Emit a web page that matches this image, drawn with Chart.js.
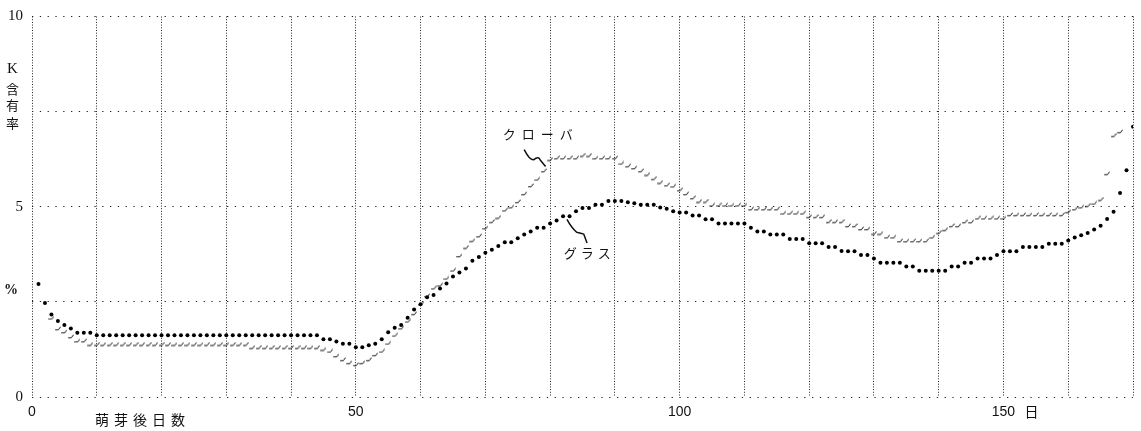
<!DOCTYPE html>
<html>
<head>
<meta charset="utf-8">
<script src="https://cdn.jsdelivr.net/npm/chart.js@4"></script>
<style>
  html, body { margin: 0; padding: 0; background: #fff; }
  #wrap { width: 1141px; height: 431px; }
</style>
</head>
<body>
<div id="wrap"><canvas id="c" width="1141" height="431"></canvas></div>
<script>
// ---- data (K content %, one reading per day after sprouting) ----
const firstDay = 1;
const grass = [
  2.97, 2.47, 2.17, 2.00, 1.89, 1.80, 1.69, 1.69, 1.69, 1.62,
  1.62, 1.62, 1.62, 1.62, 1.62, 1.62, 1.62, 1.62, 1.62, 1.62,
  1.62, 1.62, 1.62, 1.62, 1.62, 1.62, 1.62, 1.62, 1.62, 1.62,
  1.62, 1.62, 1.62, 1.62, 1.62, 1.62, 1.62, 1.62, 1.62, 1.62,
  1.62, 1.62, 1.62, 1.62, 1.52, 1.52, 1.46, 1.40, 1.40, 1.31,
  1.31, 1.36, 1.40, 1.52, 1.70, 1.82, 1.89, 2.08, 2.30, 2.44,
  2.62, 2.68, 2.85, 2.98, 3.17, 3.27, 3.38, 3.58, 3.68, 3.79,
  3.87, 3.97, 4.07, 4.07, 4.17, 4.27, 4.35, 4.45, 4.45, 4.56,
  4.64, 4.75, 4.75, 4.88, 4.97, 4.97, 5.05, 5.05, 5.15, 5.15,
  5.15, 5.12, 5.09, 5.05, 5.05, 5.05, 4.98, 4.95, 4.88, 4.85,
  4.85, 4.77, 4.77, 4.67, 4.67, 4.56, 4.56, 4.56, 4.56, 4.56,
  4.45, 4.35, 4.35, 4.27, 4.27, 4.27, 4.15, 4.15, 4.15, 4.04,
  4.04, 4.04, 3.94, 3.94, 3.84, 3.83, 3.83, 3.73, 3.73, 3.64,
  3.53, 3.53, 3.53, 3.53, 3.43, 3.43, 3.32, 3.32, 3.32, 3.32,
  3.32, 3.43, 3.43, 3.53, 3.53, 3.64, 3.64, 3.64, 3.73, 3.83,
  3.83, 3.83, 3.94, 3.94, 3.94, 3.94, 4.03, 4.03, 4.03, 4.11,
  4.19, 4.25, 4.31, 4.40, 4.50, 4.68, 4.87, 5.36, 5.96, 7.10
];
const clover = [
  null, null, 2.08, 1.80, 1.72, 1.59, 1.48, 1.48, 1.39, 1.39,
  1.39, 1.39, 1.39, 1.39, 1.39, 1.39, 1.39, 1.39, 1.39, 1.39,
  1.39, 1.39, 1.39, 1.39, 1.39, 1.39, 1.39, 1.39, 1.39, 1.39,
  1.39, 1.39, 1.39, 1.31, 1.31, 1.31, 1.31, 1.31, 1.31, 1.31,
  1.31, 1.31, 1.31, 1.31, 1.26, 1.21, 1.09, 0.99, 0.91, 0.86,
  0.91, 0.99, 1.12, 1.21, 1.42, 1.63, 1.82, 2.00, 2.20, 2.45,
  2.67, 2.87, 2.95, 3.13, 3.34, 3.72, 3.94, 4.12, 4.24, 4.45,
  4.62, 4.73, 4.92, 5.00, 5.14, 5.35, 5.56, 5.73, 5.95, 6.25,
  6.29, 6.29, 6.29, 6.29, 6.36, 6.36, 6.29, 6.29, 6.29, 6.29,
  6.15, 6.08, 6.03, 5.95, 5.86, 5.75, 5.65, 5.58, 5.55, 5.45,
  5.35, 5.24, 5.15, 5.15, 5.05, 5.05, 5.05, 5.05, 5.05, 5.05,
  4.95, 4.95, 4.95, 4.95, 4.95, 4.84, 4.84, 4.84, 4.84, 4.75,
  4.75, 4.75, 4.62, 4.62, 4.62, 4.51, 4.51, 4.43, 4.43, 4.31,
  4.31, 4.21, 4.21, 4.11, 4.11, 4.11, 4.11, 4.11, 4.21, 4.33,
  4.41, 4.51, 4.51, 4.61, 4.61, 4.71, 4.71, 4.71, 4.71, 4.71,
  4.80, 4.80, 4.80, 4.80, 4.80, 4.80, 4.80, 4.80, 4.80, 4.88,
  4.95, 5.00, 5.04, 5.10, 5.20, 5.88, 6.88, 6.98, null, null
];
const xMax = 170;
const yMax = 10;
const xLabelled = [0, 50, 100, 150];
const yLabelled = [0, 5, 10];
const seriesNames = ['グラス', 'クローバ'];

// ---- helpers ----
const toPoints = arr => arr.map((v, i) => ({ x: firstDay + i, y: v })).filter(p => p.y !== null);

// small hook-shaped mark for the clover series
const hook = document.createElement('canvas');
hook.width = 6; hook.height = 5;
(function () {
  const c = hook.getContext('2d');
  c.strokeStyle = '#1a1a1a';
  c.lineWidth = 1;
  c.lineCap = 'round';
  c.beginPath();
  c.moveTo(0.6, 3.8);
  c.lineTo(3.4, 3.8);
  c.lineTo(5.4, 1.0);
  c.stroke();
})();

const annot = {
  id: 'annot',
  afterDraw(chart) {
    const { ctx, scales: { x, y } } = chart;
    ctx.save();
    ctx.fillStyle = '#111';
    ctx.textAlign = 'center';
    ctx.textBaseline = 'middle';
    const spaced = (txt, cx, cy, step) => {
      [...txt].forEach((ch, i) => ctx.fillText(ch, cx + i * step, cy));
    };
    // y-axis title
    ctx.font = '15px "Liberation Serif"';
    ctx.fillText('K', 12.5, 69);
    ctx.font = '13px "Noto Sans CJK JP"';
    ctx.fillText('含', 12.5, 89);
    ctx.fillText('有', 12.5, 105);
    ctx.fillText('率', 12.5, 123);
    ctx.font = 'bold 14px "Liberation Serif"';
    ctx.fillText('%', 11, 290);
    // x-axis title + unit
    ctx.font = '14px "Noto Sans CJK JP"';
    spaced('萌芽後日数', 102, 420, 19);
    ctx.fillText('日', x.getPixelForValue(150) + 28, 412);
    // series labels
    ctx.font = '13px "Noto Sans CJK JP"';
    spaced(seriesNames[1], x.getPixelForValue(73.7), y.getPixelForValue(6.9), 19);
    spaced(seriesNames[0], x.getPixelForValue(83.1), y.getPixelForValue(3.77), 17);
    // leader lines
    ctx.strokeStyle = '#111';
    ctx.lineWidth = 1.5;
    ctx.lineJoin = 'round';
    ctx.beginPath();
    ctx.moveTo(x.getPixelForValue(76.0), y.getPixelForValue(6.5));
    ctx.quadraticCurveTo(x.getPixelForValue(76.9), y.getPixelForValue(6.2), x.getPixelForValue(77.5), y.getPixelForValue(6.24));
    ctx.quadraticCurveTo(x.getPixelForValue(78.2), y.getPixelForValue(6.34), x.getPixelForValue(78.5), y.getPixelForValue(6.22));
    ctx.lineTo(x.getPixelForValue(79.3), y.getPixelForValue(6.06));
    ctx.stroke();
    ctx.beginPath();
    ctx.moveTo(x.getPixelForValue(82.6), y.getPixelForValue(4.67));
    ctx.quadraticCurveTo(x.getPixelForValue(83.3), y.getPixelForValue(4.45), x.getPixelForValue(84.1), y.getPixelForValue(4.33));
    ctx.quadraticCurveTo(x.getPixelForValue(84.8), y.getPixelForValue(4.30), x.getPixelForValue(85.2), y.getPixelForValue(4.28));
    ctx.lineTo(x.getPixelForValue(85.7), y.getPixelForValue(4.05));
    ctx.stroke();
    ctx.restore();
  }
};

new Chart(document.getElementById('c'), {
  type: 'scatter',
  data: {
    datasets: [
      {
        label: seriesNames[0],
        data: toPoints(grass),
        pointStyle: 'circle',
        pointRadius: 2,
        pointBorderWidth: 0,
        backgroundColor: '#000',
        borderColor: '#000',
        showLine: false
      },
      {
        label: seriesNames[1],
        data: toPoints(clover),
        pointStyle: hook,
        pointRadius: 3,
        showLine: false
      }
    ]
  },
  options: {
    responsive: false,
    animation: false,
    events: [],
    layout: { padding: { top: 7, right: 2, left: 0, bottom: 0 } },
    plugins: { legend: { display: false }, tooltip: { enabled: false } },
    scales: {
      x: {
        type: 'linear',
        min: 0, max: xMax,
        afterFit: s => { s.height = 34; },
        border: { display: false, dash: [1, 1.7] },
        grid: { color: '#222', lineWidth: 1, drawTicks: false },
        ticks: {
          stepSize: 10, autoSkip: false, maxRotation: 0, padding: 8,
          color: '#111',
          font: { family: '"Liberation Sans"', size: 14, lineHeight: 1 },
          callback: v => xLabelled.includes(v) ? String(v) : ''
        }
      },
      y: {
        min: 0, max: yMax,
        afterFit: s => { s.width = 32; },
        border: { display: false, dash: [1.3, 6.5] },
        grid: { color: '#222', lineWidth: 1, drawTicks: false },
        ticks: {
          stepSize: 2.5, autoSkip: false, padding: 9,
          color: '#111',
          font: { family: '"Liberation Serif"', size: 15, lineHeight: 1 },
          callback: v => yLabelled.includes(v) ? String(v) : ''
        }
      }
    }
  },
  plugins: [annot]
});
</script>
</body>
</html>
